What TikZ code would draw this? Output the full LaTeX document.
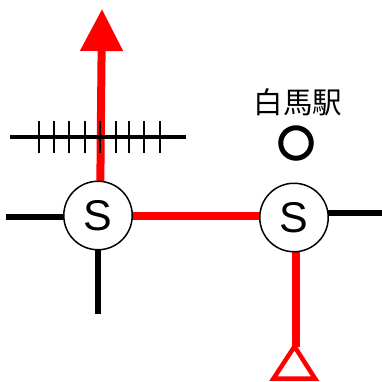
\documentclass[tikz,border=0pt]{standalone}
\usepackage{fontspec}
\setsansfont{Liberation Sans}
\newfontfamily\cjk{Noto Sans CJK JP}
\usetikzlibrary{arrows.meta, backgrounds}

\begin{document}
\begin{tikzpicture}[x=1pt, y=-1pt, line cap=butt,
	stop/.style ={circle, draw, fill = white, line width=1.5pt, inner sep=0pt, minimum size=68.5pt, font=\sffamily\fontsize{43}{43}\selectfont},
	blackline/.style ={draw=black, line width=6pt},
	redline/.style ={draw=red, line width=8pt},
	tick/.style ={draw=black, line width=2pt}]
	\useasboundingbox (0,0) rectangle (382,381);
	\node[stop] (A) at (98,215.5) {S};
	\node[stop] (B) at (294,217.5) {S};
	\node[font=\cjk\fontsize{29.5}{29.5}\selectfont] (Name) at (298,102) {白馬駅};
	\node[circle, draw, line width=5pt, minimum size=30.5pt, inner sep=0pt] (Station) at (296,143) {};
	\coordinate (Top) at (102,9);
	\coordinate (Bd) at (296,347);
	\coordinate (Foot) at (294.5,346.5);
	\coordinate (FootL) at (273.5,378.5);
	\coordinate (FootR) at (315,378.5);
	\coordinate (Cl) at (10,137);
	\coordinate (Cr) at (186,137);
	\coordinate (Al) at (6,216.5);
	\coordinate (Ad) at (98,314);
	\coordinate (Br) at (382,212.5);
	
	\begin{scope}[on background layer]
	\draw [redline, -{Triangle[length=42pt, width=41pt]}] ([xshift=2pt]A.center) to (Top);
	\draw [redline] ([yshift=-.5pt]A.center) to ([yshift=-.5pt]A.center -| B.center);
	\draw [redline] ([xshift=2pt]B.center) to (Bd);
	\draw [blackline] (Al -| A.center) to (Al);
	\draw [blackline] (A.center) to (Ad);
	\draw [blackline] (Br -| B.center) to (Br);
	\end{scope}
	\draw [draw=red, line width=4.5pt] (Foot) -- (FootL) -- (FootR) -- cycle;
	\draw [black, line width=3.5pt] (Cl) to (Cr);
	\foreach \x in {38.5,54,69,84.5,100,115.5,129,144,159.5}
		\draw [tick] (\x,121) -- (\x,153);
\end{tikzpicture}
\end{document}
